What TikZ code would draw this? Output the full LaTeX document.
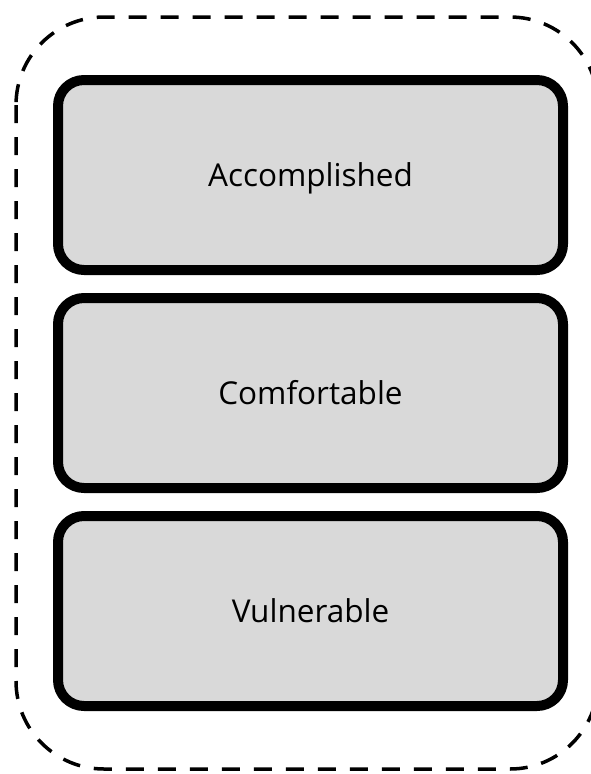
\documentclass[tikz,border=0pt]{standalone}
\usepackage{fontspec}
\setmainfont{Open Sans}
\usetikzlibrary{positioning}
\definecolor{boxgray}{HTML}{D9D9D9}
\tikzset{levelbox/.style={draw=black, fill=boxgray, line width=10pt, rounded corners=26pt,
    minimum width=505pt, minimum height=190pt, text height=22pt, text depth=0pt,
    font=\fontsize{31.5}{38}\selectfont}}
\begin{document}
\begin{tikzpicture}[x=1pt, y=-1pt, line join=round]
	\useasboundingbox (0,0) rectangle (591,774);
	\begin{scope}
		\clip (0,0) rectangle (591,774);
		\draw[line width=3.5pt, dash pattern=on 18pt off 14pt, rounded corners=88pt] (16,17) rectangle (598,769);
	\end{scope}
	\node[levelbox] (acc) at (310.5,175) {Accomplished};
	\node[levelbox, below=18pt of acc] (com) {Comfortable};
	\node[levelbox, below=18pt of com] (vul) {Vulnerable};
\end{tikzpicture}
\end{document}
